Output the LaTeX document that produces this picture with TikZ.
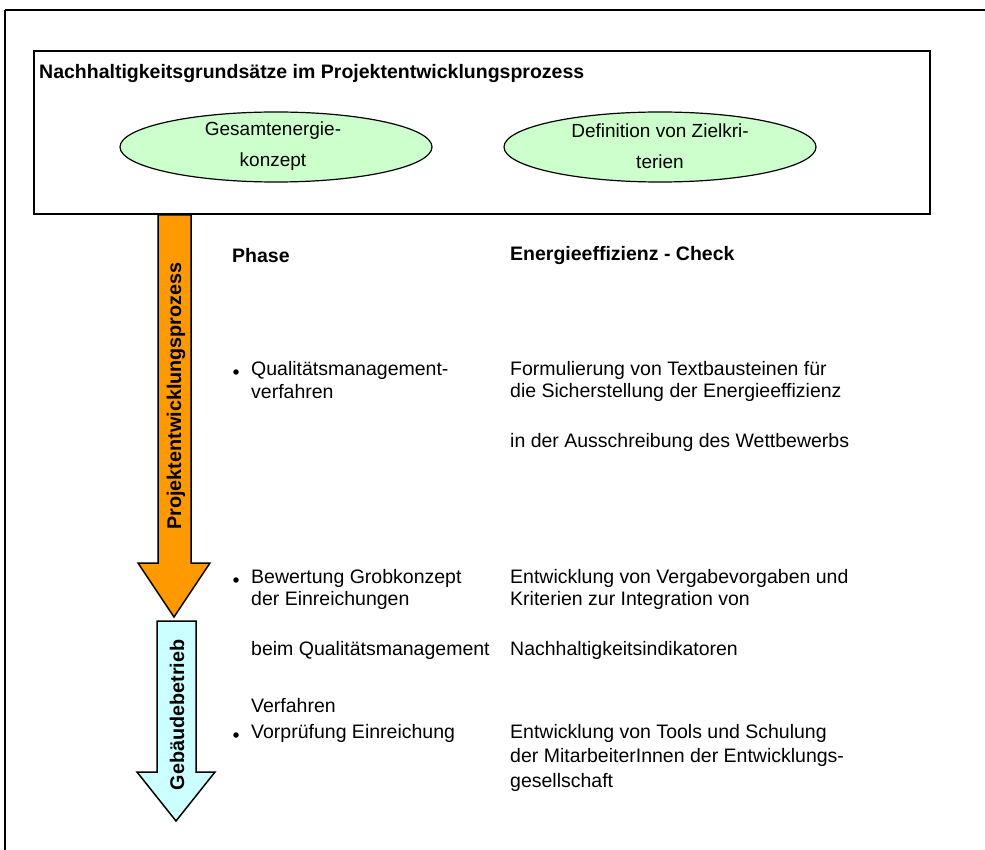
\documentclass[tikz,border=0pt]{standalone}
\usepackage{fontspec}
\setmainfont{Liberation Sans}
\usetikzlibrary{shapes.geometric}
\definecolor{arroworange}{HTML}{FF9900}
\definecolor{arrowcyan}{HTML}{CCFFFF}
\definecolor{ellgreen}{HTML}{CCFFCC}
\tikzset{
  frame/.style={draw=black, line width=2pt},
  oval/.style={ellipse, draw=black, line width=1.2pt, fill=ellgreen, minimum width=312pt, minimum height=70pt},
  ovaltext/.style={align=center, inner sep=0pt, font=\fontsize{19}{31}\selectfont},
  txt/.style={anchor=west, inner sep=0pt, font=\fontsize{19.5}{22}\selectfont},
  hdr/.style={anchor=west, inner sep=0pt, font=\fontsize{19.5}{22}\selectfont\bfseries},
  dot/.style={circle, fill=black, inner sep=0pt, minimum size=5.5pt},
  arrowbox/.style={draw=black, line width=1.5pt},
  arrowlabel/.style={rotate=90, inner sep=0pt, font=\fontsize{19.8}{22}\selectfont\bfseries}
}
\begin{document}
\begin{tikzpicture}[x=1pt,y=-1pt]
\useasboundingbox (0,0) rectangle (985,850);
% outer frame (top and left edges)
\draw[frame] (5,10) -- (5,850);
\draw[frame] (5,10) -- (985,10);
% inner box
\draw[frame] (34,51) rectangle (930,214);
\node[hdr] (title) at (39,74) {Nachhaltigkeitsgrundsätze im Projektentwicklungsprozess};
\node[oval] (e1) at (276,147) {};
\node[ovaltext] (t1) at (273,146) {Gesamtenergie-\\konzept};
\node[oval] (e2) at (660,147) {};
\node[ovaltext] (t2) at (660,146) {Definition von Zielkri-\\terien};
% orange arrow
\draw[arrowbox, fill=arroworange] (158,215) -- (191,215) -- (191,563) -- (210,563) -- (174,617) -- (138,563) -- (158,563) -- cycle;
\node[arrowlabel] (p1) at (176,396) {Projektentwicklungsprozess};
% cyan arrow
\draw[arrowbox, fill=arrowcyan] (157,621) -- (196,621) -- (196,772) -- (215,772) -- (176,821) -- (137,772) -- (157,772) -- cycle;
\node[arrowlabel] (p2) at (177,715) {Gebäudebetrieb};
% headers
\node[hdr] (h1) at (232,256) {Phase};
\node[hdr] (h2) at (510,256) {Energieeffizienz - Check};
% left column
\node[dot] (b1) at (236,372) {};
\node[txt] (l1) at (251,370) {Qualitätsmanagement-};
\node[txt] (l2) at (251,392) {verfahren};
\node[dot] (b2) at (236,580) {};
\node[txt] (l3) at (251,578) {Bewertung Grobkonzept};
\node[txt] (l4) at (251,600) {der Einreichungen};
\node[txt] (l5) at (251,650) {beim Qualitätsmanagement};
\node[txt] (l6) at (251,706) {Verfahren};
\node[dot] (b3) at (236,735) {};
\node[txt] (l7) at (251,733) {Vorprüfung Einreichung};
% right column
\node[txt] (r1) at (510,370) {Formulierung von Textbausteinen für};
\node[txt] (r2) at (510,392) {die Sicherstellung der Energieeffizienz};
\node[txt] (r3) at (510,442) {in der Ausschreibung des Wettbewerbs};
\node[txt] (r4) at (510,578) {Entwicklung von Vergabevorgaben und};
\node[txt] (r5) at (510,600) {Kriterien zur Integration von};
\node[txt] (r6) at (510,650) {Nachhaltigkeitsindikatoren};
\node[txt] (r7) at (510,733) {Entwicklung von Tools und Schulung};
\node[txt] (r8) at (510,757) {der MitarbeiterInnen der Entwicklungs-};
\node[txt] (r9) at (510,782) {gesellschaft};
\end{tikzpicture}
\end{document}
